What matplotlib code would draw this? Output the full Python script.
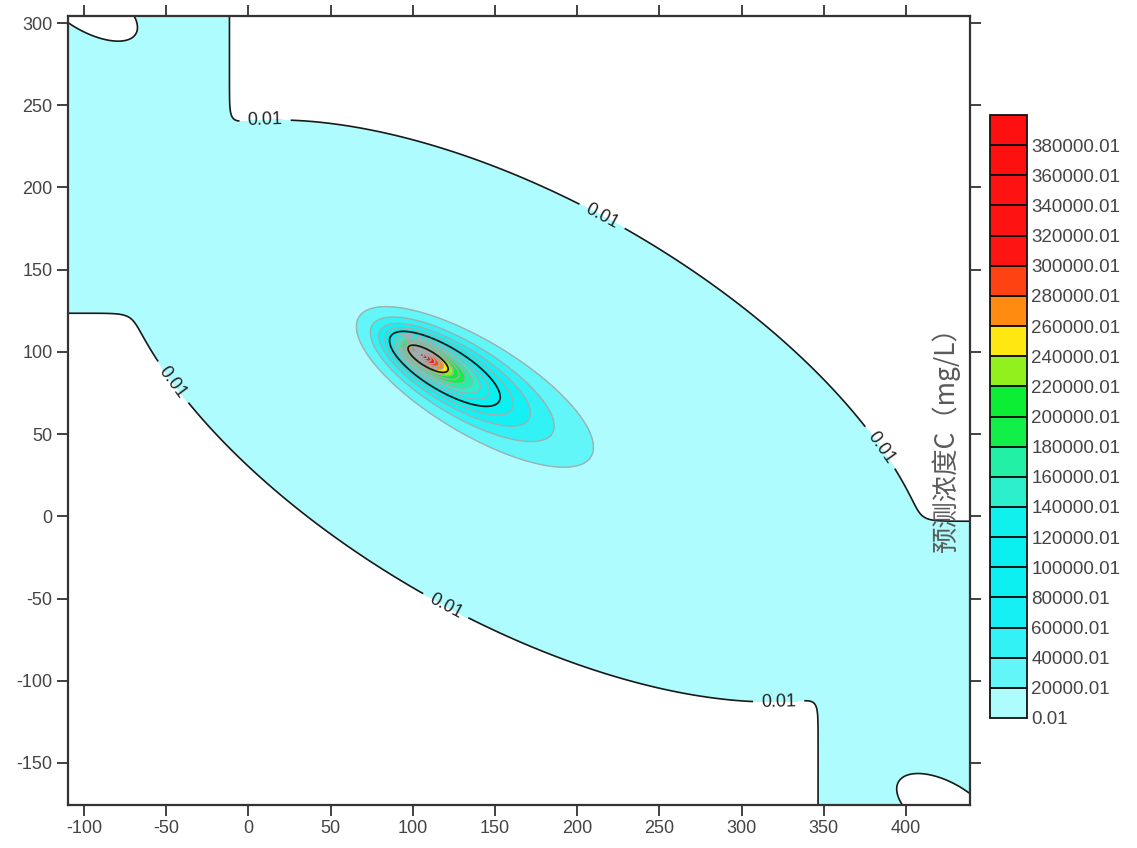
import numpy as np
import matplotlib.pyplot as plt

plt.rcParams['font.family'] = ['Liberation Sans', 'DejaVu Sans']
plt.rcParams['axes.unicode_minus'] = False

# contour levels and colours
levels = [0.01 + 20000 * k for k in range(21)]
fill_colors = ['#aefcfd', '#62f6f8', '#33f2f6', '#14f0f3', '#0cf0f2', '#0af0f0',
               '#10f0ec', '#2cf0cc', '#22f0a4', '#12ef48', '#0cee34', '#92f01c',
               '#ffe812', '#ff8c10', '#ff4212', '#ff1414', '#ff1212', '#ff1212',
               '#ff1010', '#ff1010']
black_levels = [0.01, 100000.01, 240000.01]

# points on the outer 0.01 contour
upper_x = [25.9, 103.8, 160.9, 202.9, 232.7, 275.9, 304.5, 333.1, 361.7, 373.2, 393.3]
upper_y = [242.9, 227.0, 206.3, 186.3, 172.3, 149.8, 127.3, 101.2, 68.9, 52.5, 26.3]
lower_x = [-36.1, 6.4, 36.8, 66.6, 103.1, 133.6, 187.7, 248.5, 302.6, 339.1]
lower_y = [66.5, 28.2, -0.4, -22.3, -46.6, -64.8, -83.1, -101.4, -111.7, -116.0]

# grid artefact bands at the ends of the plume (corner of each band)
band_tl = (-11.5, 123.5)
band_br = (346.5, -3.0)
# small notches near the two corners: centre, half axes, angle
notch_tl = (-97.0, 310.0, 33.0, 15.0, -30.0)
notch_br = (424.0, -178.0, 33.0, 16.0, -30.0)

# plume core: source, peak, axis angle
source = (103.5, 99.3)
c_max = 395000.0
angle = -31.0
# each ring is an ellipse; per unit of ln(c_max / c):
shift_k = 13.6   # centre moves downstream
half_a = 28.0    # half length
half_b = 9.6     # half width

# 0.01 labels
label_xy = [(10.1, 243.6), (213.9, 180.2), (382.3, 40.4),
            (-48.9, 79.3), (119.6, -55.2), (322.6, -114.8)]
tick_x = list(range(-100, 401, 50))
tick_y = list(range(-150, 301, 50))

# ---------------------------------------------------------------
x = np.linspace(-110, 440, 1100)
y = np.linspace(-176, 305, 960)
X, Y = np.meshgrid(x, y)

# ellipse through the read 0.01 points
px = np.array(upper_x + lower_x) - 170.0
py = np.array(upper_y + lower_y) - 65.0
M = np.column_stack([px ** 2, px * py, py ** 2, px, py])
p, *_ = np.linalg.lstsq(M, np.ones(len(px)), rcond=None)
Xc, Yc = X - 170.0, Y - 65.0
Q = p[0] * Xc ** 2 + p[1] * Xc * Yc + p[2] * Yc ** 2 + p[3] * Xc + p[4] * Yc
d_ell = (1.0 - Q) * 70.0

tau = 3.0


def smax(a, b):
    return tau * np.logaddexp(a / tau, b / tau)


def smin(a, b):
    return -smax(-a, -b)


def notch_dist(n):
    cx, cy, ra, rb, ang = n
    t = np.radians(ang)
    u = (X - cx) * np.cos(t) + (Y - cy) * np.sin(t)
    v = -(X - cx) * np.sin(t) + (Y - cy) * np.cos(t)
    return (np.sqrt((u / ra) ** 2 + (v / rb) ** 2) - 1.0) * 12.0


d_tl = smin(smin(band_tl[0] - X, Y - band_tl[1]), notch_dist(notch_tl))
d_br = smin(smin(X - band_br[0], band_br[1] - Y), notch_dist(notch_br))
d_all = smax(smax(d_ell, d_tl), d_br)
c_low = 0.01 * np.exp(d_all / 20.0)

t = np.radians(angle)
u = (X - source[0]) * np.cos(t) + (Y - source[1]) * np.sin(t)
v = -(X - source[0]) * np.sin(t) + (Y - source[1]) * np.cos(t)
den = half_a ** 2 - shift_k ** 2
lam = (-u * shift_k + np.sqrt((u * shift_k) ** 2 +
                              den * (u ** 2 + (half_a / half_b) ** 2 * v ** 2))) / den
c_core = c_max * np.exp(-lam - (lam / 5.0) ** 6)

C = c_core + c_low

# ---------------------------------------------------------------
fig = plt.figure(figsize=(11.37, 8.48), dpi=100)
ax = fig.add_axes([68 / 1137, 1 - 805 / 848, 902 / 1137, 789 / 848])

cf = ax.contourf(X, Y, C, levels=levels, colors=fill_colors)
grey_levels = [lv for lv in levels[:-1] if lv not in black_levels]
ax.contour(X, Y, C, levels=grey_levels, colors='#9fb0b0', linewidths=1.0)
ax.contour(X, Y, C, levels=black_levels[1:], colors='#1a1a1a', linewidths=1.3)
cs0 = ax.contour(X, Y, C, levels=[0.01], colors='#1a1a1a', linewidths=1.2)
ax.clabel(cs0, fmt='%.2f', manual=label_xy, fontsize=13, inline=True,
          inline_spacing=8, colors='#222222')

ax.set_xlim(-109.7, 438.9)
ax.set_ylim(-175.6, 304.3)
ax.set_xticks(tick_x)
ax.set_yticks(tick_y)
ax.tick_params(direction='out', top=True, right=True, labeltop=False,
               labelright=False, length=8, width=1.3, color='#333333',
               labelcolor='#444444', labelsize=13, pad=3)
for sp in ax.spines.values():
    sp.set_linewidth(1.6)
    sp.set_color('#333333')

cax = fig.add_axes([990 / 1137, 1 - 718 / 848, 37 / 1137, 603 / 848])
cb = fig.colorbar(cf, cax=cax, ticks=levels[:-1], drawedges=True)
cb.ax.set_yticklabels([f'{lv:.2f}' for lv in levels[:-1]])
cb.ax.tick_params(length=0, labelsize=13.5, labelcolor='#444444', pad=3)
cb.outline.set_linewidth(1.3)
cb.outline.set_edgecolor('#111111')
cb.dividers.set_color('#111111')
cb.dividers.set_linewidth(1.4)

fig.text(946 / 1137, 1 - 433 / 848, '预测浓度C（mg/L）', rotation=90,
         ha='center', va='center', fontsize=19, color='#5a5a5a',
         family=['Noto Sans CJK SC', 'DejaVu Sans'])

fig.savefig('out.png', dpi=100)
